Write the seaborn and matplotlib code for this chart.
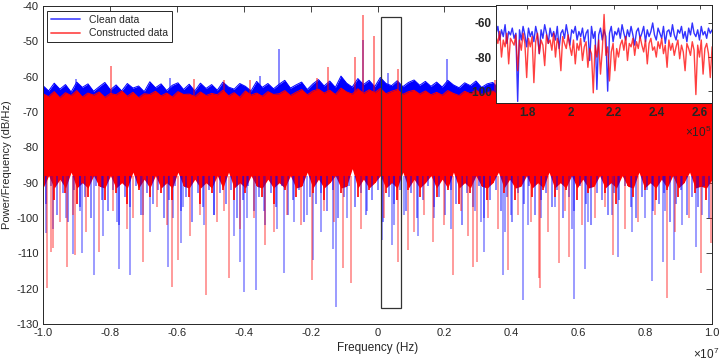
import numpy as np
import matplotlib
matplotlib.use("Agg")
import matplotlib.pyplot as plt
import seaborn as sns
from matplotlib.lines import Line2D
from matplotlib.patches import Rectangle

# main spectrum: upper fringe of each trace, lower fringe of the dense band (dB/Hz)
blue_top = [-62.5, -64.0, -61.8, -63.5, -62.2, -64.3, -61.5, -63.0, -62.0, -64.1,
            -62.8, -61.6, -63.7, -62.3, -64.0, -61.9, -63.2, -62.6, -64.2, -61.4,
            -63.1, -62.0, -63.9, -62.4, -61.7, -63.6, -62.1, -64.0, -61.8, -63.3,
            -62.2, -63.8, -61.5, -62.9, -63.5, -61.9, -62.7, -64.0, -61.3, -63.0,
            -61.9, -63.4, -62.1, -61.0, -63.2, -62.3, -61.5, -63.6, -62.0, -60.8,
            -62.6, -61.2, -63.0, -59.8, -61.8, -62.9, -60.5, -62.2, -61.0, -62.8,
            -60.2, -61.9, -62.5, -61.1, -62.8, -61.6, -60.9, -62.4, -61.3, -62.7,
            -61.5, -62.9, -61.0, -62.3, -63.1, -61.7, -62.5, -61.2, -63.0, -62.0,
            -61.6, -63.2, -62.1, -61.4, -62.8, -63.4, -61.8, -62.6, -61.1, -63.0,
            -62.4, -61.5, -63.3, -62.0, -61.7, -63.1, -62.2, -61.3, -62.9, -61.8,
            -63.0, -61.9, -62.5, -61.2, -63.3, -62.1, -61.6, -62.8, -61.4, -62.6,
            -61.8, -63.0, -62.2, -61.5, -62.9, -61.7, -63.2, -62.0, -61.3, -62.5]
red_top = [-64.8, -65.6, -64.2, -65.9, -64.5, -65.3, -63.9, -65.7, -64.6, -65.2,
           -64.3, -65.8, -64.7, -65.1, -64.0, -65.5, -64.4, -65.9, -64.8, -65.0,
           -64.1, -65.4, -64.6, -65.7, -64.2, -65.0, -64.9, -65.6, -64.3, -65.3,
           -64.7, -65.1, -63.8, -65.4, -64.5, -65.8, -64.0, -65.2, -64.6, -65.5,
           -64.2, -65.0, -64.8, -63.9, -65.3, -64.4, -63.6, -65.1, -64.0, -63.5,
           -64.6, -63.8, -65.0, -63.2, -64.3, -64.9, -63.4, -64.7, -63.7, -64.5,
           -63.3, -64.8, -64.1, -63.6, -65.0, -64.2, -63.8, -64.9, -64.0, -65.1,
           -64.4, -65.2, -63.9, -64.7, -65.3, -64.1, -64.8, -63.7, -65.0, -64.5,
           -64.0, -65.4, -64.6, -63.8, -65.1, -64.9, -64.2, -65.5, -63.9, -65.0,
           -64.7, -64.1, -65.3, -64.4, -63.9, -65.2, -64.6, -64.0, -65.4, -64.3,
           -65.0, -64.2, -64.8, -63.7, -65.3, -64.5, -64.0, -65.1, -63.8, -64.9,
           -64.3, -65.2, -64.6, -63.9, -65.0, -64.4, -65.3, -64.1, -63.8, -64.7]
red_bot = [-92, -88, -95, -89, -93, -87, -96, -90, -94, -88,
           -91, -95, -88, -93, -90, -96, -87, -92, -89, -94,
           -88, -93, -90, -95, -87, -91, -94, -89, -96, -90,
           -93, -88, -92, -87, -95, -90, -93, -88, -91, -94,
           -89, -96, -90, -92, -88, -94, -91, -87, -93, -89,
           -95, -90, -88, -93, -91, -86, -94, -89, -92, -90,
           -88, -93, -90, -95, -87, -92, -89, -94, -90, -88,
           -94, -89, -92, -87, -96, -90, -93, -88, -91, -95,
           -90, -87, -93, -89, -95, -91, -88, -94, -90, -92,
           -87, -94, -90, -92, -88, -95, -89, -93, -91, -88,
           -93, -90, -96, -88, -91, -94, -87, -92, -90, -95,
           -89, -92, -88, -94, -90, -87, -93, -91, -95, -89]
blue_bot = [-96, -91, -99, -93, -101, -92, -97, -94, -100, -91,
            -95, -98, -92, -102, -94, -97, -91, -99, -93, -96,
            -92, -100, -95, -91, -98, -94, -101, -93, -97, -92,
            -99, -93, -96, -92, -100, -95, -91, -98, -94, -102,
            -93, -97, -91, -99, -95, -92, -101, -94, -96, -93,
            -98, -92, -100, -94, -91, -97, -93, -99, -95, -92,
            -101, -94, -96, -92, -98, -93, -100, -95, -91, -97,
            -94, -99, -92, -96, -102, -93, -97, -91, -100, -95,
            -92, -98, -94, -101, -93, -96, -91, -99, -95, -93,
            -97, -92, -100, -94, -98, -91, -96, -102, -93, -95,
            -99, -93, -95, -91, -97, -100, -94, -92, -98, -96,
            -93, -101, -96, -92, -99, -94, -97, -91, -100, -95]

# isolated spikes (frequency in units of 1e7 Hz, level in dB/Hz)
red_up_x = [-0.797, -0.148, -0.067, -0.043, -0.010, 0.062, -0.55, -0.46, -0.38, -0.18, 0.35, 0.55, 0.80]
red_up_v = [-57.0, -57.2, -54.5, -42.5, -48.5, -57.9, -60.5, -61.0, -60.8, -60.2, -61.0, -60.8, -61.2]
blue_up_x = [-0.294, -0.043, 0.209, -0.90, -0.62, -0.35, 0.03, 0.47, 0.72]
blue_up_v = [-52.0, -49.6, -55.1, -60.5, -60.2, -59.8, -59.0, -60.4, -60.0]

red_dn_x = [-0.989, -0.975, -0.969, -0.929, -0.904, -0.832, -0.702, -0.615, -0.595, -0.514,
            -0.445, -0.335, -0.197, -0.102, -0.080, 0.062, 0.090, 0.165, 0.225, 0.285,
            0.298, 0.389, 0.483, 0.486, 0.541, 0.571, 0.705, 0.866, 0.966, 0.996,
            -0.95, -0.91, -0.87, -0.79, -0.75, -0.73, -0.66, -0.63, -0.56, -0.53,
            -0.48, -0.46, -0.41, -0.37, -0.31, -0.27, -0.23, -0.16, -0.13, -0.05,
            0.02, 0.11, 0.14, 0.20, 0.25, 0.27, 0.33, 0.36, 0.42, 0.46,
            0.51, 0.56, 0.61, 0.65, 0.68, 0.74, 0.78, 0.83, 0.89, 0.93]
red_dn_v = [-119.9, -109.5, -108.6, -113.8, -110.5, -109.5, -112.4, -119.4, -112.0, -121.8,
            -117.1, -107.5, -117.6, -114.0, -118.5, -112.4, -109.1, -106.7, -116.0, -113.8,
            -112.4, -114.7, -117.1, -119.9, -112.7, -111.0, -110.5, -122.7, -115.5, -107.0,
            -101, -99, -104, -98, -103, -100, -97, -102, -105, -99,
            -101, -98, -103, -100, -104, -99, -102, -98, -101, -103,
            -100, -104, -99, -102, -98, -105, -100, -103, -99, -101,
            -104, -98, -102, -100, -97, -103, -101, -99, -104, -100]
blue_dn_x = [-0.990, -0.911, -0.883, -0.847, -0.773, -0.740, -0.625, -0.586, -0.411, -0.399,
             -0.363, -0.280, -0.193, -0.134, -0.125, 0.012, 0.044, 0.318, 0.374, 0.436,
             0.587, 0.621, 0.720, 0.820, 0.854, 0.886, 0.952,
             -0.97, -0.93, -0.89, -0.82, -0.78, -0.70, -0.68, -0.61, -0.58, -0.52,
             -0.49, -0.43, -0.39, -0.34, -0.30, -0.25, -0.21, -0.17, -0.09, -0.03,
             0.05, 0.08, 0.12, 0.17, 0.22, 0.29, 0.31, 0.38, 0.40, 0.45,
             0.49, 0.53, 0.58, 0.63, 0.70, 0.76, 0.80, 0.86, 0.91, 0.97]
blue_dn_v = [-104.3, -110.2, -110.0, -116.1, -114.3, -116.1, -113.8, -107.2, -112.4, -120.9,
             -120.4, -115.5, -112.0, -108.7, -125.1, -106.2, -107.6, -109.5, -116.0, -123.2,
             -122.9, -114.3, -111.0, -117.8, -112.4, -112.0, -108.1,
             -103, -100, -98, -105, -101, -99, -104, -100, -97, -102,
             -99, -105, -100, -98, -103, -101, -99, -104, -100, -98,
             -102, -99, -105, -100, -103, -98, -101, -104, -99, -102,
             -100, -97, -103, -101, -99, -104, -100, -98, -102, -99]

# zoomed inset, 1.655e5 .. 2.657e5 Hz
blue_in = [-66, -62, -70, -64, -68, -61, -72, -65, -67, -63,
           -69, -66, -106, -64, -70, -62, -67, -74, -63, -68,
           -65, -71, -62, -67, -78, -64, -69, -61, -66, -72,
           -63, -68, -65, -70, -62, -75, -66, -64, -69, -61,
           -67, -73, -64, -66, -62, -70, -65, -68, -63, -71,
           -66, -64, -82, -62, -69, -65, -99, -67, -63, -70,
           -64, -68, -100, -66, -62, -71, -65, -67, -63, -69,
           -61, -66, -70, -64, -68, -62, -67, -73, -65, -63,
           -69, -66, -62, -71, -64, -68, -65, -60, -67, -70,
           -63, -66, -69, -62, -72, -65, -64, -68, -61, -67,
           -70, -64, -66, -62, -69, -65, -71, -63, -67, -60,
           -66, -68, -64, -70, -62, -67, -65, -69, -63, -66, -64]
red_in = [-68, -72, -65, -80, -70, -74, -66, -84, -69, -71,
          -73, -67, -88, -70, -76, -66, -72, -92, -69, -74,
          -68, -95, -71, -66, -78, -70, -73, -85, -67, -72,
          -70, -76, -66, -80, -69, -73, -88, -68, -72, -75,
          -67, -74, -79, -70, -84, -72, -76, -69, -82, -74,
          -71, -86, -75, -78, -101, -73, -80, -70, -90, -76,
          -55, -79, -74, -94, -77, -72, -88, -75, -80, -73,
          -70, -76, -68, -82, -72, -74, -69, -79, -71, -75,
          -68, -73, -77, -70, -84, -72, -69, -76, -74, -80,
          -71, -75, -69, -78, -73, -86, -70, -76, -72, -79,
          -74, -70, -81, -73, -77, -88, -72, -75, -79, -71,
          -76, -102, -73, -80, -70, -90, -75, -72, -78, -92, -74]

x_ticks = [-1.0, -0.8, -0.6, -0.4, -0.2, 0, 0.2, 0.4, 0.6, 0.8, 1.0]
x_labels = ["-1.0", "-0.8", "-0.6", "-0.4", "-0.2", "0", "0.2", "0.4", "0.6", "0.8", "1.0"]
in_ticks = [1.8, 2.0, 2.2, 2.4, 2.6]
in_labels = ["1.8", "2", "2.2", "2.4", "2.6"]

BLUE = "#0000ff"
RED = "#ff0000"
DARK = "#262626"

sns.set_theme(style="white")
plt.rcParams["font.family"] = ["Liberation Sans", "DejaVu Sans"]
plt.rcParams["mathtext.default"] = "regular"
plt.rcParams["axes.unicode_minus"] = False

fig = plt.figure(figsize=(7.2, 3.63), dpi=100)
ax = fig.add_axes([0.0597, 0.1074, 0.9293, 0.8756])

x_top = np.linspace(-1e7, 1e7, len(blue_top))
step = x_top[1] - x_top[0]

# clean data (drawn first, red goes over it)
ax.vlines(np.array(blue_dn_x) * 1e7, -88, blue_dn_v, color=BLUE, alpha=0.5, lw=1.1)
ax.vlines(x_top + step / 2, -88, blue_bot, color=BLUE, alpha=0.55, lw=1.2)
ax.vlines(np.array(blue_up_x) * 1e7, -64, blue_up_v, color=BLUE, alpha=0.6, lw=1.1)
ax.fill_between(x_top, -80, blue_top, color=BLUE, lw=0)
sns.lineplot(x=x_top, y=blue_top, ax=ax, color=BLUE, lw=0.7)

# constructed data
ax.vlines(np.array(red_dn_x) * 1e7, -88, red_dn_v, color=RED, alpha=0.5, lw=1.1)
ax.vlines(np.array(red_up_x) * 1e7, -66, red_up_v, color=RED, alpha=0.6, lw=1.1)
ax.vlines(x_top, -86, red_bot, color=RED, alpha=0.85, lw=1.4)
ax.fill_between(x_top, np.maximum(red_bot, -91.5), red_top, color=RED, lw=0)
sns.lineplot(x=x_top, y=red_top, ax=ax, color=RED, lw=0.7)

ax.add_patch(Rectangle((0.0105e7, -125.4), 0.06e7, 82.2, fill=False, edgecolor="#333333", lw=0.9, zorder=5))

ax.set_xlim(-1e7, 1e7)
ax.set_ylim(-130, -40)
ax.set_xticks(np.array(x_ticks) * 1e7)
ax.set_xticklabels(x_labels)
ax.set_yticks(range(-130, -39, 10))
ax.set_xlabel("Frequency (Hz)", fontsize=8.5, color=DARK, labelpad=3)
ax.set_ylabel("Power/Frequency (dB/Hz)", fontsize=8, color=DARK)
ax.yaxis.set_label_coords(-0.046, 0.5)
ax.tick_params(direction="in", length=4, width=0.6, top=True, right=True,
               labelsize=8, colors=DARK, pad=3)
for s in ax.spines.values():
    s.set_color(DARK)
    s.set_linewidth(0.7)
fig.text(0.962, 0.012, r"$\times10^7$", fontsize=8.5, color=DARK)

handles = [Line2D([], [], color="#5050ff", lw=1.3), Line2D([], [], color="#ff5050", lw=1.3)]
leg = ax.legend(handles, ["Clean data", "Constructed data"], loc="upper left",
                bbox_to_anchor=(0.006, 0.985), borderaxespad=0, fontsize=7.5,
                fancybox=False, framealpha=1, edgecolor=DARK, handlelength=2.8,
                labelspacing=0.3, borderpad=0.4)
leg.get_frame().set_linewidth(0.7)

# inset
axin = fig.add_axes([0.689, 0.716, 0.3, 0.27])
axin.set_facecolor("white")
x_in = np.linspace(1.655e5, 2.657e5, len(blue_in))
sns.lineplot(x=x_in, y=blue_in, ax=axin, color=BLUE, lw=1.0, alpha=0.8)
sns.lineplot(x=x_in, y=red_in, ax=axin, color=RED, lw=1.0, alpha=0.75)
axin.set_xlim(1.655e5, 2.657e5)
axin.set_ylim(-107, -49.5)
axin.set_xticks(np.array(in_ticks) * 1e5)
axin.set_xticklabels(in_labels)
axin.set_yticks([-100, -80, -60])
axin.tick_params(direction="in", length=3, width=0.6, top=True, right=True,
                 labelsize=8.5, colors=DARK, pad=3)
for lab in axin.get_xticklabels() + axin.get_yticklabels():
    lab.set_fontweight("bold")
for s in axin.spines.values():
    s.set_color(DARK)
    s.set_linewidth(0.7)
fig.text(0.951, 0.622, r"$\times10^5$", fontsize=8.5, color=DARK)

fig.savefig("out.png", dpi=100)
